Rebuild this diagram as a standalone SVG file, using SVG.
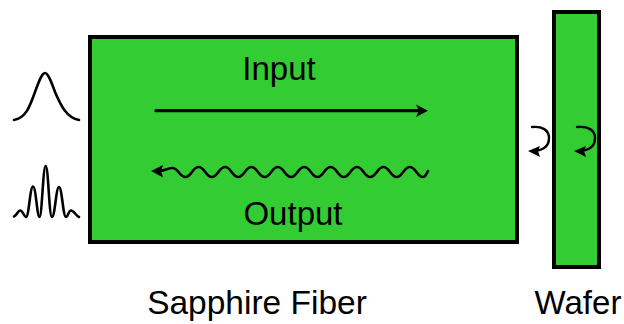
<svg xmlns="http://www.w3.org/2000/svg" width="624" height="324" viewBox="0 0 624 324">
<style>
.box{fill:#33cc33;stroke:#000;stroke-width:4}
.ln{fill:none;stroke:#000;stroke-linejoin:round;stroke-linecap:round}
.head{fill:#000;stroke:none}
text{font-family:"Liberation Sans",Arial,sans-serif;font-size:33px;fill:#000;text-anchor:middle}
</style>
<rect width="624" height="324" fill="#fff"/>
<g id="fiber"><rect class="box" x="90" y="37" width="427" height="205"/></g>
<g id="wafer"><rect class="box" x="554" y="12" width="45" height="255"/></g>
<g id="input-pulse"><path class="ln" stroke-width="2.600" d="M14,120C26,118 30,106 35,92C39,81 42,73 45,73C48,73 51,81 55,92C61,106 67,118 79,120"/></g>
<g id="output-pulse"><path class="ln" stroke-width="2.600" d="M14,216.500C17,215 18,210.500 20,210.500C23,210.500 24,217 26,217C29,217 30,186.500 33,186.500C36,186.500 37,217 39.500,217C42,217 43,166 45.700,166C48.400,166 49,217 52,217C55,217 56,187 59,187C62,187 63,217 66,217C68,217 68.500,210.500 71,210.500C74,210.500 76,216 79,217"/></g>
<g id="connectors">
<path class="ln" stroke-width="3.200" stroke-linecap="butt" d="M156,110.700H422"/>
<path class="head" d="M428,110.700L416,104.500L419,110.700L416,117Z"/>
<path class="ln" stroke-width="2.600" d="M428,171C426,175 425,177 423,177c-6,0 -7.200,-10 -13.200,-10s-7.200,10 -13.200,10s-7.200,-10 -13.200,-10s-7.200,10 -13.200,10s-7.200,-10 -13.200,-10s-7.200,10 -13.200,10s-7.200,-10 -13.200,-10s-7.200,10 -13.200,10s-7.200,-10 -13.200,-10s-7.200,10 -13.200,10s-7.200,-10 -13.200,-10s-7.200,10 -13.200,10s-7.200,-10 -13.200,-10s-7.200,10 -13.200,10s-7.200,-10 -13.200,-10s-7.200,10 -13.200,10s-7.200,-10 -13.200,-10s-7.200,10 -13.200,10s-7,-9 -13,-9C167,168 165,171 159,171"/>
<path class="head" d="M151,171L163,165L161,171L163,177.500Z"/>
<path class="ln" stroke-width="2.400" d="M532,127C542,126 549,130 549,138C549,146 543,150 535,151"/>
<path class="head" d="M528,151L540,146L538,151L540,157Z"/>
<path class="ln" stroke-width="2.400" d="M577,127C588,126 595,130 595,138C595,146 589,150 581,151"/>
<path class="head" d="M574,151L586,146L584,151L586,157Z"/>
</g>
<g id="labels">
<text x="279" y="80">Input</text>
<text x="293" y="225">Output</text>
<text x="257" y="314" style="font-size:33.500px">Sapphire Fiber</text>
<text x="578" y="314">Wafer</text>
</g>
</svg>
